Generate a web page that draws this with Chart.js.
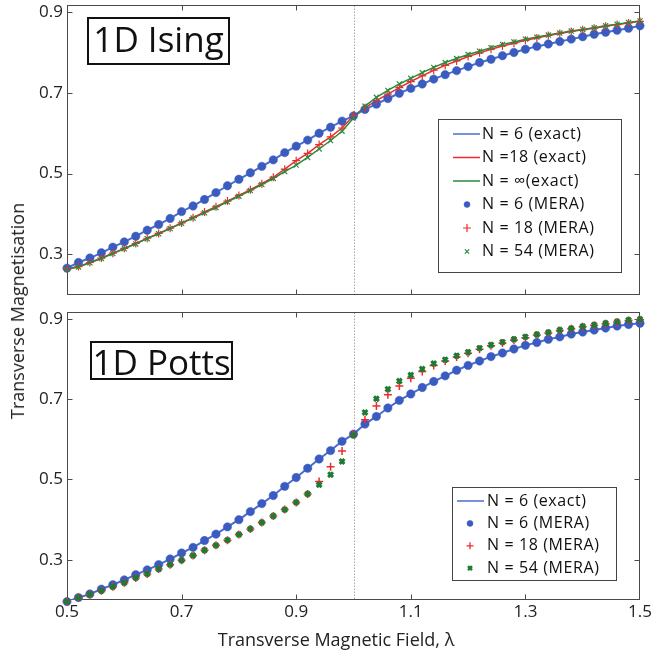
<!DOCTYPE html>
<html><head><meta charset="utf-8">
<script src="https://cdn.jsdelivr.net/npm/chart.js@4.4.1/dist/chart.umd.min.js"></script>
<style>
html,body{margin:0;padding:0;background:#fff;}
#wrap{position:relative;width:651px;height:654px;overflow:hidden;font-family:"Open Sans",sans-serif;}
canvas{position:absolute;left:0;}
#cTop{top:0;}
#cBot{top:300px;}
.ytitle{position:absolute;left:17px;top:311px;transform:translate(-50%,-50%) rotate(-90deg);white-space:nowrap;font-size:18px;color:#222;}
.xtitle{position:absolute;left:336px;top:639px;transform:translate(-50%,-50%);white-space:nowrap;font-size:18px;color:#222;}
</style></head><body>
<div id="wrap">
<canvas id="cTop" width="651" height="300"></canvas>
<canvas id="cBot" width="651" height="354"></canvas>
<div class="ytitle">Transverse Magnetisation</div>
<div class="xtitle">Transverse Magnetic Field, λ</div>
</div>
<script>
// ---- data ----
const lambda = [0.50,0.52,0.54,0.56,0.58,0.60,0.62,0.64,0.66,0.68,0.70,0.72,0.74,0.76,0.78,0.80,0.82,0.84,0.86,0.88,0.90,0.92,0.94,0.96,0.98,1.00,1.02,1.04,1.06,1.08,1.10,1.12,1.14,1.16,1.18,1.20,1.22,1.24,1.26,1.28,1.30,1.32,1.34,1.36,1.38,1.40,1.42,1.44,1.46,1.48,1.50];

const isingN6 = [0.266,0.280,0.291,0.304,0.318,0.331,0.345,0.360,0.374,0.389,0.406,0.420,0.436,0.453,0.470,0.486,0.502,0.518,0.534,0.552,0.568,0.583,0.600,0.615,0.630,0.643,0.659,0.672,0.686,0.699,0.711,0.722,0.734,0.745,0.755,0.765,0.775,0.783,0.792,0.800,0.808,0.815,0.821,0.827,0.833,0.839,0.845,0.850,0.855,0.860,0.866];
const isingN18 = [0.264,0.270,0.280,0.291,0.303,0.315,0.327,0.340,0.352,0.365,0.378,0.391,0.405,0.418,0.432,0.446,0.460,0.475,0.491,0.511,0.532,0.550,0.572,0.591,0.613,0.644,0.663,0.681,0.697,0.713,0.728,0.742,0.756,0.768,0.779,0.790,0.799,0.808,0.816,0.823,0.830,0.836,0.842,0.847,0.852,0.856,0.860,0.865,0.869,0.873,0.877];
const isingInf = [0.263,0.269,0.279,0.290,0.302,0.314,0.326,0.339,0.351,0.364,0.377,0.390,0.403,0.416,0.430,0.444,0.458,0.473,0.488,0.505,0.521,0.540,0.561,0.582,0.605,0.638,0.667,0.689,0.706,0.722,0.736,0.750,0.763,0.775,0.785,0.795,0.803,0.812,0.820,0.826,0.833,0.838,0.843,0.848,0.853,0.857,0.861,0.866,0.870,0.874,0.878];

const pottsN6 = [0.196,0.206,0.215,0.227,0.238,0.250,0.263,0.275,0.288,0.302,0.317,0.331,0.348,0.364,0.382,0.400,0.420,0.440,0.460,0.483,0.505,0.528,0.551,0.572,0.595,0.613,0.638,0.657,0.678,0.697,0.713,0.729,0.744,0.758,0.772,0.784,0.795,0.806,0.815,0.825,0.834,0.841,0.849,0.855,0.862,0.867,0.872,0.877,0.882,0.886,0.889];
const pottsN18 = [0.196,0.206,0.214,0.223,0.233,0.243,0.255,0.265,0.277,0.288,0.299,0.311,0.324,0.336,0.349,0.363,0.377,0.393,0.409,0.425,0.443,0.464,0.495,0.532,0.571,0.612,0.649,0.683,0.711,0.733,0.752,0.769,0.784,0.795,0.805,0.814,0.824,0.833,0.840,0.847,0.853,0.860,0.865,0.871,0.875,0.880,0.884,0.888,0.892,0.896,0.898];
const pottsN54 = [0.196,0.206,0.214,0.223,0.233,0.243,0.255,0.265,0.277,0.288,0.299,0.311,0.324,0.336,0.349,0.363,0.377,0.393,0.409,0.425,0.443,0.464,0.487,0.512,0.545,0.610,0.667,0.701,0.725,0.745,0.760,0.775,0.789,0.798,0.808,0.817,0.827,0.835,0.842,0.849,0.855,0.861,0.866,0.872,0.876,0.881,0.885,0.889,0.893,0.897,0.899];

const xTicks = [0.5,0.7,0.9,1.1,1.3,1.5];
const xTickLabels = ['0.5','0.7','0.9','1.1','1.3','1.5'];
const yTicks = [0.3,0.5,0.7,0.9];
const yTickLabels = ['0.3','0.5','0.7','0.9'];
const criticalField = 1.0;

// ---- styling ----
const BLUE = '#3a5cc0', BLUE_LINE = '#4a6cd0', RED = '#ec2c2c', GREEN = '#2a8a3c', GREEN_D = '#1f7a34';
const FONT = '"Open Sans", sans-serif';

function pts(ys){ return lambda.map((x,i)=>({x:x, y:ys[i]})); }

const framePlugin = {
  id: 'frame',
  beforeDatasetsDraw(chart, args, o) {
    const {ctx, chartArea:a, scales:{x, y}} = chart;
    ctx.save();
    const L = Math.round(a.left)+0.5, R = Math.round(a.right)-0.5, T = Math.round(a.top)+0.5, B = Math.round(a.bottom)-0.5;
    const px = Math.round(x.getPixelForValue(o.critical))+0.5;
    ctx.strokeStyle = '#a8a8a8'; ctx.lineWidth = 1; ctx.setLineDash([1.5,1.5]);
    ctx.beginPath(); ctx.moveTo(px, T); ctx.lineTo(px, B); ctx.stroke();
    ctx.setLineDash([]);
    ctx.strokeStyle = '#4a4a4a'; ctx.lineWidth = 1;
    ctx.strokeRect(L, T, R-L, B-T);
    const len = 5;
    ctx.beginPath();
    x.ticks.forEach(t => {
      const p = Math.round(x.getPixelForValue(t.value))+0.5;
      if (p <= L+1 || p >= R-1) return;
      ctx.moveTo(p, B); ctx.lineTo(p, B-len);
      ctx.moveTo(p, T); ctx.lineTo(p, T+len);
    });
    y.ticks.forEach(t => {
      const p = Math.round(y.getPixelForValue(t.value))+0.5;
      if (p <= T+1 || p >= B-1) return;
      ctx.moveTo(L, p); ctx.lineTo(L+len, p);
      ctx.moveTo(R, p); ctx.lineTo(R-len, p);
    });
    ctx.stroke();
    ctx.restore();
  }
};

const panelLabel = {
  id: 'panelLabel',
  afterDraw(chart, args, o) {
    const ctx = chart.ctx;
    ctx.save();
    ctx.fillStyle = '#fff';
    ctx.fillRect(o.box[0], o.box[1], o.box[2], o.box[3]);
    ctx.strokeStyle = '#111'; ctx.lineWidth = 2;
    ctx.strokeRect(o.box[0], o.box[1], o.box[2], o.box[3]);
    ctx.fillStyle = '#111';
    ctx.font = '35px ' + FONT;
    ctx.textBaseline = 'alphabetic'; ctx.textAlign = 'center';
    ctx.fillText(o.text, o.box[0] + o.box[2]/2, o.baseline);
    ctx.restore();
  }
};

const insetLegend = {
  id: 'insetLegend',
  afterDraw(chart, args, o) {
    const ctx = chart.ctx;
    ctx.save();
    ctx.fillStyle = '#fff';
    ctx.fillRect(o.box[0], o.box[1], o.box[2], o.box[3]);
    ctx.strokeStyle = '#444'; ctx.lineWidth = 1;
    ctx.strokeRect(o.box[0]+0.5, o.box[1]+0.5, o.box[2], o.box[3]);
    chart.data.datasets.forEach((ds, i) => {
      const yy = o.rowY0 + i*o.rowStep;
      if (ds.showLine) {
        ctx.strokeStyle = ds.borderColor; ctx.lineWidth = ds.borderWidth > 1.5 ? 1.5 : ds.borderWidth;
        ctx.beginPath(); ctx.moveTo(o.lineX0, yy); ctx.lineTo(o.lineX1, yy); ctx.stroke();
      } else {
        ctx.fillStyle = ds.pointBackgroundColor; ctx.strokeStyle = ds.pointBorderColor;
        ctx.lineWidth = ds.legendBorder;
        Chart.helpers.drawPoint(ctx, {pointStyle: ds.pointStyle, radius: ds.legendRadius, borderWidth: ds.legendBorder, rotation: 0}, o.markX, yy);
      }
      ctx.fillStyle = '#111';
      ctx.font = o.fontSize + 'px ' + FONT;
      if ('letterSpacing' in ctx) ctx.letterSpacing = o.spacing;
      ctx.textBaseline = 'middle'; ctx.textAlign = 'left';
      ctx.fillText(ds.label, o.textX, yy);
      if ('letterSpacing' in ctx) ctx.letterSpacing = '0px';
    });
    ctx.restore();
  }
};

function lineDS(label, ys, color, width, order) {
  return {label, data: pts(ys), showLine: true, borderColor: color, backgroundColor: color,
          borderWidth: width, pointRadius: 0, pointHoverRadius: 0, tension: 0, order};
}
function markDS(label, ys, style, color, radius, bw, lr, lb, order) {
  return {label, data: pts(ys), showLine: false, pointStyle: style,
          pointBackgroundColor: color, pointBorderColor: color, backgroundColor: color, borderColor: color,
          pointRadius: radius, pointBorderWidth: bw, pointHoverRadius: radius,
          legendRadius: lr, legendBorder: lb, clip: false, order};
}

function scalesFor(showXLabels, xHeight) {
  return {
    x: {
      type: 'linear', min: 0.5, max: 1.5,
      afterBuildTicks: s => { s.ticks = xTicks.map(v => ({value: v})); },
      ticks: { display: showXLabels, callback: (v, i) => xTickLabels[i], font: {family: FONT, size: 17}, color: '#222', padding: 2, maxRotation: 0, autoSkip: false },
      grid: { display: false, drawTicks: false, tickLength: 0 }, border: { display: false },
      afterFit: s => { s.height = xHeight; s.paddingLeft = 0; s.paddingRight = 0; }
    },
    y: {
      type: 'linear', min: 0.2, max: 0.917,
      afterBuildTicks: s => { s.ticks = yTicks.map(v => ({value: v})); },
      ticks: { callback: (v, i) => yTickLabels[i], font: {family: FONT, size: 17}, color: '#222', padding: 4, autoSkip: false },
      grid: { display: false, drawTicks: false, tickLength: 0 }, border: { display: false },
      afterFit: s => { s.width = 67; s.paddingTop = 0; s.paddingBottom = 0; }
    }
  };
}

Chart.defaults.animation = false;

new Chart(document.getElementById('cTop'), {
  type: 'scatter',
  data: { datasets: [
    lineDS('N = 6 (exact)', isingN6, BLUE_LINE, 2, 6),
    lineDS('N =18 (exact)', isingN18, RED, 1.5, 5),
    lineDS('N = \u221E(exact)', isingInf, GREEN, 1.5, 4),
    markDS('N = 6 (MERA)', isingN6, 'circle', BLUE, 4.2, 0.5, 3, 0.5, 3),
    markDS('N = 18 (MERA)', isingN18, 'cross', RED, 4, 1.2, 4, 1.2, 2),
    markDS('N = 54 (MERA)', isingInf, 'crossRot', GREEN, 3.6, 1.2, 3, 1.2, 1)
  ]},
  options: {
    responsive: false, animation: false, events: [],
    layout: { padding: { top: 5, right: 11, bottom: 0, left: 0 } },
    scales: scalesFor(false, 4),
    plugins: {
      legend: { display: false }, tooltip: { enabled: false },
      frame: { critical: criticalField },
      panelLabel: { text: '1D Ising', box: [88, 18, 141, 46], baseline: 52 },
      insetLegend: { box: [438, 119, 183, 153], rowY0: 134, rowStep: 23.5, lineX0: 453, lineX1: 480, markX: 467, textX: 482, fontSize: 16, spacing: '0.6px' }
    }
  },
  plugins: [framePlugin, panelLabel, insetLegend]
});

new Chart(document.getElementById('cBot'), {
  type: 'scatter',
  data: { datasets: [
    lineDS('N = 6 (exact)', pottsN6, BLUE_LINE, 2, 4),
    markDS('N = 6 (MERA)', pottsN6, 'circle', BLUE, 4.2, 0.5, 3, 0.5, 3),
    markDS('N = 18 (MERA)', pottsN18, 'cross', RED, 4, 1.5, 3.5, 1.3, 2),
    markDS('N = 54 (MERA)', pottsN54, 'crossRot', GREEN_D, 3.4, 3, 2.8, 2.5, 1)
  ]},
  options: {
    responsive: false, animation: false, events: [],
    layout: { padding: { top: 12, right: 11, bottom: 0, left: 0 } },
    scales: scalesFor(true, 54),
    plugins: {
      legend: { display: false }, tooltip: { enabled: false },
      frame: { critical: criticalField },
      panelLabel: { text: '1D Potts', box: [91, 42, 141, 37], baseline: 75 },
      insetLegend: { box: [452, 187, 164, 93], rowY0: 201, rowStep: 22.4, lineX0: 457, lineX1: 484, markX: 470, textX: 487, fontSize: 16, spacing: '0.6px' }
    }
  },
  plugins: [framePlugin, panelLabel, insetLegend]
});
</script>
</body></html>
